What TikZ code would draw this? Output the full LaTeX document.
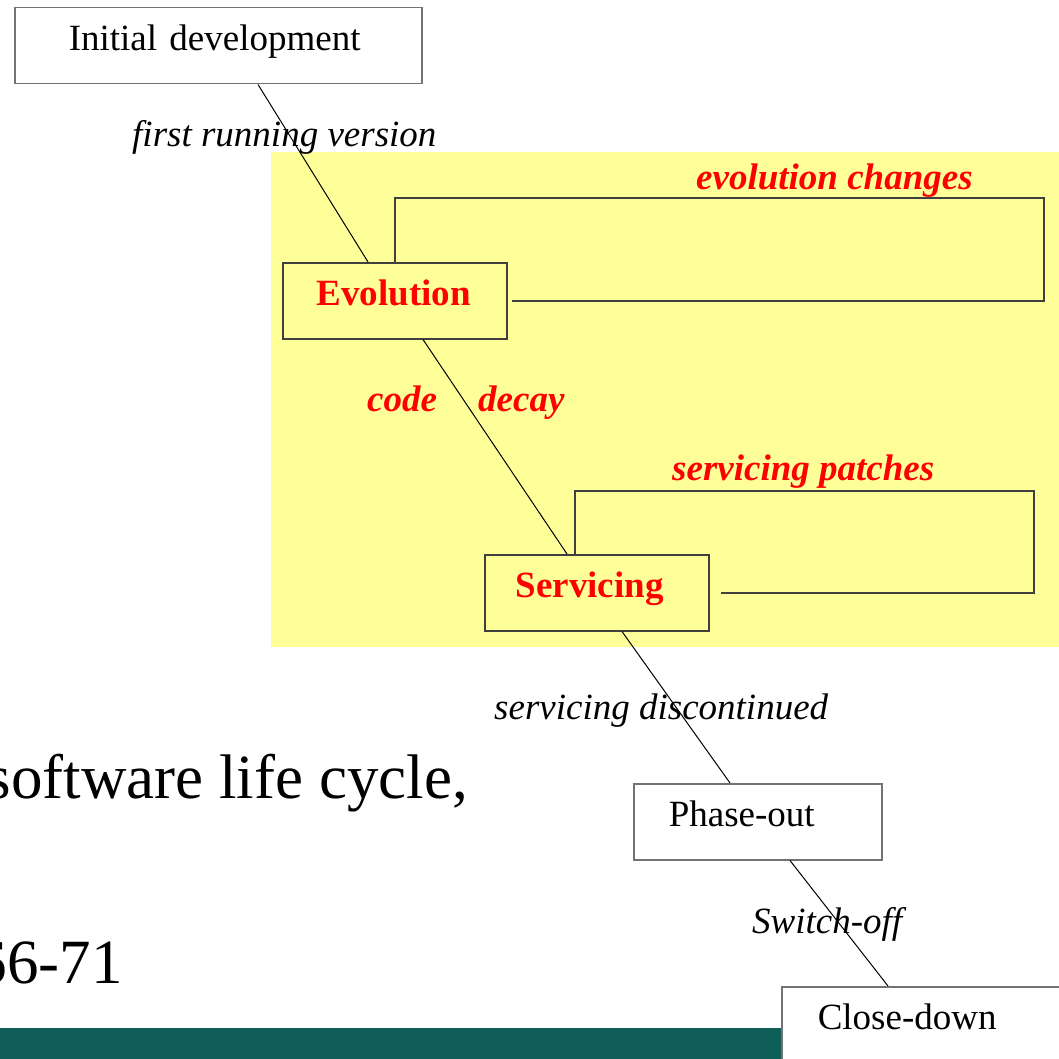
\documentclass[tikz,border=0pt]{standalone}
\usepackage{fontspec}
\setmainfont{Liberation Serif}
\usepackage{tikz}
\usetikzlibrary{positioning}
\definecolor{slideyellow}{HTML}{FFFF99}
\definecolor{slideteal}{HTML}{105E58}
\newcommand{\lblfont}{\fontsize{37}{44}\selectfont}
\newcommand{\citefont}{\fontsize{63}{76}\selectfont}
\tikzstyle{block} = [draw=black!55, line width=1.5pt, rectangle, anchor=north west, align=left, inner ysep=0pt, minimum height=76pt, text height=20pt, text depth=10pt, font=\lblfont]
\tikzstyle{stage} = [block, draw=black!75, text=red, font=\lblfont\bfseries]
\tikzstyle{invis} = [draw=none, inner sep=0pt, anchor=base west, font=\lblfont\itshape]
\tikzstyle{redlbl} = [invis, text=red, font=\lblfont\bfseries\itshape]
\tikzstyle{link} = [black, line width=1pt]
\tikzstyle{loopline} = [black!75, line width=1.5pt]

\begin{document}
\begin{tikzpicture}[x=1pt, y=-1pt]

    \useasboundingbox (0,0) rectangle (1059,1059);
    \clip (0,0) rectangle (1059,1059);

    % slide background
    \fill [slideyellow] (271,152) rectangle (1059,647);
    \fill [slideteal] (0,1028) rectangle (1059,1059);

    \node [block, inner xsep=54pt, text width=299pt, name=init] at (14,7) {Initial development};
    \node [stage, inner xsep=34pt, text width=156pt, name=evo] at (282,262) {Evolution};
    \node [stage, inner xsep=31pt, text width=162pt, name=serv] at (484,554) {Servicing};
    \node [block, inner xsep=35pt, text width=178pt, name=phase] at (633,783) {Phase-out};
    \node [block, fill=white, inner xsep=36pt, text width=260pt, name=close] at (781,986) {Close-down};

    \draw [link] ([xshift=244pt]init.south west) -- ([xshift=86pt]evo.north west);
    \draw [link] ([xshift=141pt]evo.south west) -- ([xshift=83pt]serv.north west);
    \draw [link] ([xshift=138pt]serv.south west) -- ([xshift=97pt]phase.north west);
    \draw [link] ([xshift=157pt]phase.south west) -- ([xshift=107pt]close.north west);

    % self loops
    \draw [loopline] ([xshift=113pt]evo.north west) |- (1044,198) |- ([xshift=4pt]evo.east);
    \draw [loopline] ([xshift=91pt]serv.north west) |- (1034,491) |- ([xshift=11pt]serv.east);

    \node [invis, name=lfirst] at (132,147) {first running version};
    \node [redlbl, name=levo] at (696,190) {evolution changes};
    \node [redlbl, name=lcode] at (367,411) {code};
    \node [redlbl, name=ldecay] at (478,411) {decay};
    \node [redlbl, name=lpatch] at (672,480) {servicing patches};
    \node [invis, name=ldisc] at (494,719) {servicing discontinued};
    \node [invis, name=lswitch] at (752,933) {Switch-off};

    \node [invis, anchor=base east, font=\citefont, name=cite1] at (468,798) {software life cycle,};
    \node [invis, anchor=base east, font=\citefont, name=cite2] at (123,983) {66-71};

\end{tikzpicture}
\end{document}
